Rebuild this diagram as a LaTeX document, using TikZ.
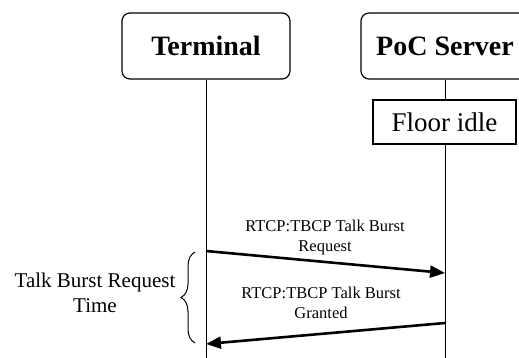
\documentclass[tikz,border=0pt]{standalone}
\usepackage{fontspec}
\setmainfont{Liberation Serif}
\usetikzlibrary{arrows.meta,decorations.pathreplacing,positioning}
\tikzstyle{entity}=[draw, rounded corners=8pt, line width=1.2pt,
                    minimum width=168pt, minimum height=66pt,
                    font=\fontsize{28}{32}\selectfont\bfseries]
\tikzstyle{state} =[draw, line width=1.2pt, minimum width=143pt,
                    minimum height=44pt, font=\fontsize{27}{30}\selectfont]
\tikzstyle{lifeline}=[line width=1pt]
\tikzstyle{msg}   =[line width=2.6pt, -{Triangle[length=15pt,width=12pt]}]
\tikzstyle{msglabel}=[align=center, font=\fontsize{16.5}{20}\selectfont]

\begin{document}
\begin{tikzpicture}[x=1pt,y=-1pt]
    \useasboundingbox (0,0) rectangle (519,358);

        % heads and state
        \node (term) [entity] at (206,46) {Terminal};
        \node (poc)  [entity] at (445,46) {PoC Server};
        \node (idle) [state]  at (444.5,122) {Floor idle};

        \coordinate (termEnd) at (206,358);
        \coordinate (pocEnd)  at (445,358);
        \draw [lifeline] (term) -- (termEnd);
        \draw [lifeline] (poc.south) -- (poc.south |- idle.north);
        \draw [lifeline] (poc.south |- idle.south) -- (pocEnd);

        % messages
        \coordinate (reqA)   at (206,251);
        \coordinate (reqB)   at (445,273);
        \coordinate (grantA) at (445,323);
        \coordinate (grantB) at (206,344);
        \foreach \i/\j in {reqA/reqB,grantA/grantB}
        \draw [msg] (\i) -- (\j);

        \node (reqText)   [msglabel] at (325,238) {RTCP:TBCP Talk Burst\\Request};
        \node (grantText) [msglabel] at (321,303) {RTCP:TBCP Talk Burst\\Granted};

        % request time
        \coordinate (braceBot) at (195,343);
        \coordinate (braceTop) at (195,252);
        \draw [line width=1pt, decorate, decoration={brace, amplitude=14pt}]
            (braceBot) -- (braceTop);
        \node (reqTime) [align=center, font=\fontsize{21}{25}\selectfont]
            at (95,293) {Talk Burst Request\\Time};

\end{tikzpicture}
\end{document}
